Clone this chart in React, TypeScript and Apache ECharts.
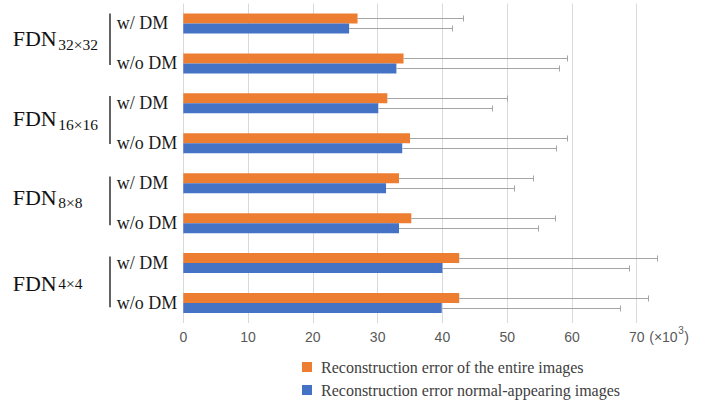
import React, { useEffect, useRef } from "react";
import * as echarts from "echarts";

// Model variants (block size of the FDN) and the two training settings per model
const groups = ["32×32", "16×16", "8×8", "4×4"];
const variants = ["w/ DM", "w/o DM"];
const seriesNames = [
  "Reconstruction error of the entire images",
  "Reconstruction error normal-appearing images",
];

// Mean reconstruction error (×10³), order: 32 w/, 32 w/o, 16 w/, 16 w/o, 8 w/, 8 w/o, 4 w/, 4 w/o
const entireMean = [26.9, 34.0, 31.5, 35.0, 33.3, 35.2, 42.6, 42.6];
const entireSd = [16.3, 25.2, 18.5, 24.2, 20.7, 22.2, 30.5, 29.2];
const normalMean = [25.6, 32.9, 30.1, 33.8, 31.3, 33.3, 40.0, 39.9];
const normalSd = [15.9, 25.1, 17.6, 23.8, 19.8, 21.4, 28.8, 27.5];

const unitText = ["(×10", "3", ")"];

const categories = groups.flatMap((g) => variants.map((v) => `${g}|${v}`));

const ORANGE = "#ED7D31";
const BLUE = "#4472C4";
const ERR = "#a5a5a5";
const BAR_W = 10;
const SERIF = '"Liberation Serif", "Times New Roman", serif';
const SANS = '"Liberation Sans", Arial, sans-serif';

// Per-group fine placement of the FDN labels and brackets (pixels relative to the rows)
const fdnDy = [-5.4, -5, -6, 0.8];
const subDy = [0.8, 1.2, -0.5, 0];
const bracketTop = [-10, -7.3, -6.6, -6.6];
const bracketBottom = [1.7, 0.7, 2, 4.3];

function measure(text: string, font: string): number {
  const ctx = document.createElement("canvas").getContext("2d");
  if (!ctx) return text.length * 8;
  ctx.font = font;
  return ctx.measureText(text).width;
}

function errorSeries(name: string, mean: number[], sd: number[], offset: number) {
  return {
    type: "custom",
    name,
    coordinateSystem: "cartesian2d",
    silent: true,
    z: 3,
    encode: { x: [1, 2], y: 0 },
    data: mean.map((m, i) => [i, m, m + sd[i]]),
    renderItem: (_params: any, api: any) => {
      const cat = api.value(0);
      const a = api.coord([api.value(1), cat]);
      const b = api.coord([api.value(2), cat]);
      const y = Math.round(a[1] + offset) + 0.5;
      const xe = Math.round(b[0]) + 0.5;
      return {
        type: "group",
        children: [
          {
            type: "line",
            shape: { x1: a[0], y1: y, x2: xe, y2: y },
            style: { stroke: ERR, lineWidth: 1 },
          },
          {
            type: "line",
            shape: { x1: xe, y1: y - 3, x2: xe, y2: y + 3 },
            style: { stroke: ERR, lineWidth: 1 },
          },
        ],
      };
    },
  };
}

export default function App() {
  const ref = useRef<HTMLDivElement>(null);

  useEffect(() => {
    if (!ref.current) return;
    const chart = echarts.init(ref.current, undefined, { renderer: "svg" });

    chart.setOption({
      animation: false,
      grid: { left: 183.3, top: 3.5, width: 518.2, height: 319.5 },
      legend: {
        data: seriesNames,
        orient: "vertical",
        left: 302,
        top: 359,
        padding: 0,
        icon: "rect",
        itemWidth: 10,
        itemHeight: 10,
        itemGap: 7,
        selectedMode: false,
        textStyle: {
          fontFamily: SERIF,
          fontSize: 16,
          lineHeight: 16,
          color: "#404040",
          padding: [0, 0, 0, 4],
        },
      },
      xAxis: {
        type: "value",
        min: 0,
        max: 80,
        interval: 10,
        axisLine: { show: false },
        axisTick: { show: false },
        splitLine: {
          show: true,
          showMaxLine: false,
          lineStyle: { color: "#d9d9d9", width: 1 },
        },
        axisLabel: {
          showMaxLabel: false,
          fontFamily: SANS,
          fontSize: 14,
          color: "#595959",
          verticalAlign: "middle",
          margin: 13.5,
        },
      },
      yAxis: {
        type: "category",
        inverse: true,
        data: categories,
        axisLine: { show: false },
        axisTick: { show: false },
        splitLine: { show: false },
        axisLabel: {
          align: "left",
          margin: 66.6,
          fontFamily: SERIF,
          fontSize: 18,
          color: "#1a1a1a",
          padding: [0, 0, 2, 0],
          formatter: (v: string) => v.split("|")[1],
        },
      },
      series: [
        {
          type: "bar",
          name: seriesNames[0],
          data: entireMean,
          barWidth: BAR_W,
          barGap: "0%",
          itemStyle: { color: ORANGE },
        },
        {
          type: "bar",
          name: seriesNames[1],
          data: normalMean,
          barWidth: BAR_W,
          barGap: "0%",
          itemStyle: { color: BLUE },
        },
        errorSeries("entire-sd", entireMean, entireSd, -BAR_W / 2),
        errorSeries("normal-sd", normalMean, normalSd, BAR_W / 2),
      ],
    });

    // Group labels (FDN with block-size subscript) and brackets beside the rows
    const mainFont = `22px ${SERIF}`;
    const fdnW = measure("FDN", mainFont);
    const graphics: any[] = [];
    groups.forEach((g, gi) => {
      const y0 = chart.convertToPixel({ yAxisIndex: 0 }, 2 * gi) as number;
      const y1 = chart.convertToPixel({ yAxisIndex: 0 }, 2 * gi + 1) as number;
      const mid = (y0 + y1) / 2;
      graphics.push({
        type: "line",
        shape: { x1: 110, y1: y0 + bracketTop[gi], x2: 110, y2: y1 + bracketBottom[gi] },
        style: { stroke: "#111", lineWidth: 1.3 },
      });
      graphics.push({
        type: "text",
        x: 12.7,
        y: mid + fdnDy[gi],
        style: {
          text: "FDN",
          font: mainFont,
          fill: "#111",
          align: "left",
          verticalAlign: "middle",
        },
      });
      graphics.push({
        type: "text",
        x: 12.7 + fdnW + 1.5,
        y: mid + subDy[gi],
        style: {
          text: g,
          font: `15.5px ${SERIF}`,
          fill: "#111",
          align: "left",
          verticalAlign: "middle",
        },
      });
    });

    // Unit annotation after the last tick label
    const x70 = chart.convertToPixel({ xAxisIndex: 0 }, 70) as number;
    const labelY = 336.5;
    const unitFont = `14px ${SANS}`;
    const ux = x70 + 12.5;
    const w1 = measure(unitText[0], unitFont);
    const w2 = measure(unitText[1], `10px ${SANS}`);
    graphics.push(
      {
        type: "text",
        x: ux,
        y: labelY,
        style: { text: unitText[0], font: unitFont, fill: "#595959", align: "left", verticalAlign: "middle" },
      },
      {
        type: "text",
        x: ux + w1 + 0.5,
        y: labelY - 6.5,
        style: { text: unitText[1], font: `10px ${SANS}`, fill: "#595959", align: "left", verticalAlign: "middle" },
      },
      {
        type: "text",
        x: ux + w1 + w2 + 1,
        y: labelY,
        style: { text: unitText[2], font: unitFont, fill: "#595959", align: "left", verticalAlign: "middle" },
      }
    );

    chart.setOption({ graphic: graphics });

    return () => chart.dispose();
  }, []);

  return <div ref={ref} style={{ width: 719, height: 401, position: "absolute", left: 0, top: 0 }} />;
}
